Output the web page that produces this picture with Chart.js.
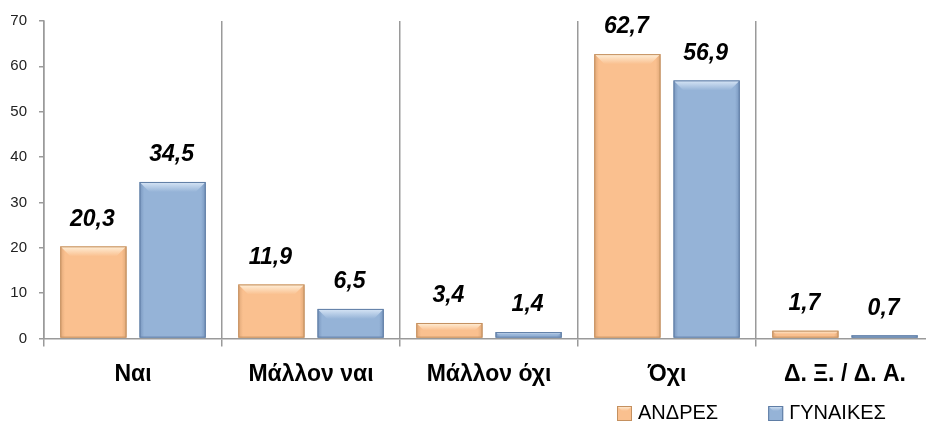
<!DOCTYPE html>
<html><head><meta charset="utf-8">
<script src="https://cdn.jsdelivr.net/npm/chart.js@4"></script>
<style>
html,body{margin:0;padding:0;overflow:hidden;background:#fff;width:926px;height:423px}
#wrap{width:936px;height:423px;position:relative}
</style></head>
<body><div id="wrap"><canvas id="c"></canvas></div>
<script>
const categories = ["Ναι", "Μάλλον ναι", "Μάλλον όχι", "Όχι", "Δ. Ξ. / Δ. Α."];
const seriesNames = ["ΑΝΔΡΕΣ", "ΓΥΝΑΙΚΕΣ"];
const men = [20.3, 11.9, 3.4, 62.7, 1.7];
const women = [34.5, 6.5, 1.4, 56.9, 0.7];
const yTicks = [0, 10, 20, 30, 40, 50, 60, 70];

const FONT = "'Liberation Sans', Arial, sans-serif";
const palette = [
  {fill:"#FAC08F", light:"#FFF0DA", dark:"#E0A878", edge:"#C4905F"},
  {fill:"#95B3D7", light:"#D8E6F6", dark:"#7896BE", edge:"#5F7DA5"}
];

function drawBevel(ctx, l, t, w, h, p, maxB){
  const r = l + w;
  const bv = Math.min(maxB, h/2);
  let g = ctx.createLinearGradient(l,0,r,0);
  g.addColorStop(0, p.dark);
  g.addColorStop(0.07, p.fill);
  g.addColorStop(0.93, p.fill);
  g.addColorStop(1, p.dark);
  ctx.fillStyle = g;
  ctx.fillRect(l, t, w, h);
  g = ctx.createLinearGradient(0,t,0,t+bv);
  g.addColorStop(0, p.light);
  g.addColorStop(1, p.fill);
  ctx.fillStyle = g;
  ctx.beginPath();
  ctx.moveTo(l,t); ctx.lineTo(r,t); ctx.lineTo(r-bv,t+bv); ctx.lineTo(l+bv,t+bv); ctx.closePath();
  ctx.fill();
  ctx.strokeStyle = p.edge; ctx.lineWidth = 1;
  ctx.strokeRect(l+0.5, t+0.5, w-1, h-1);
}

const bevelPlugin = {
  id:"bevel",
  beforeDatasetDraw(chart){
    const ctx = chart.ctx;
    ctx.save();
    ctx.shadowColor = "rgba(0,0,0,0.3)";
    ctx.shadowBlur = 6;
    ctx.shadowOffsetX = 2;
    ctx.shadowOffsetY = 1;
  },
  afterDatasetDraw(chart, args){
    const ctx = chart.ctx;
    ctx.restore();
    const p = palette[args.index];
    args.meta.data.forEach(el => {
      const w = el.width, h = el.base - el.y;
      if (h <= 0) return;
      ctx.save();
      drawBevel(ctx, el.x - w/2, el.y, w, h, p, 10);
      ctx.restore();
    });
  }
};

const labelPlugin = {
  id:"vals",
  afterDatasetsDraw(chart){
    const ctx = chart.ctx;
    ctx.save();
    ctx.font = "italic bold 23px " + FONT;
    ctx.fillStyle = "#000";
    ctx.textAlign = "center";
    ctx.textBaseline = "middle";
    chart.data.datasets.forEach((ds, i) => {
      chart.getDatasetMeta(i).data.forEach((el, j) => {
        ctx.fillText(String(ds.data[j]).replace(".", ","), el.x - 1, el.y - 27);
      });
    });
    ctx.restore();
  }
};

const legendPlugin = {
  id:"customLegend",
  afterDraw(chart){
    const ctx = chart.ctx;
    const ca = chart.chartArea;
    ctx.save();
    ctx.font = "20px " + FONT;
    ctx.textBaseline = "middle";
    ctx.textAlign = "left";
    const cy = chart.height - 10;
    let x = ca.right - 317;
    seriesNames.forEach((name, i) => {
      drawBevel(ctx, x, cy - 7, 15, 15, palette[i], 5);
      ctx.fillStyle = "#000";
      ctx.fillText(name, x + 21, cy);
      x += 21 + ctx.measureText(name).width + 50;
    });
    ctx.restore();
  }
};

new Chart(document.getElementById("c"), {
  type:"bar",
  data:{
    labels: categories,
    datasets:[
      {label: seriesNames[0], data: men, backgroundColor: palette[0].fill, borderColor: palette[0].edge, borderWidth:1},
      {label: seriesNames[1], data: women, backgroundColor: palette[1].fill, borderColor: palette[1].edge, borderWidth:1}
    ]
  },
  options:{
    responsive:true, maintainAspectRatio:false, animation:false,
    categoryPercentage:0.89, barPercentage:0.835,
    layout:{padding:{top:20, right:2, left:0, bottom:21}},
    plugins:{
      legend:{display:false},
      tooltip:{enabled:false}
    },
    scales:{
      x:{
        grid:{display:true, offset:true, color:"#9a9a9a", lineWidth:1.5, tickLength:8, drawOnChartArea:true},
        border:{display:true, color:"#9a9a9a", width:1.5},
        ticks:{font:{family:FONT, size:23, weight:"bold"}, color:"#000", padding:14}
      },
      y:{
        min:0, max:70,
        afterFit(s){ s.width = 44; },
        afterBuildTicks(s){ s.ticks = yTicks.map(v=>({value:v})); },
        grid:{drawOnChartArea:false, drawTicks:true, tickLength:5, color:"#9a9a9a", lineWidth:1.5},
        border:{display:true, color:"#9a9a9a", width:1.5},
        ticks:{font:{family:FONT, size:15}, color:"#222", padding:12}
      }
    }
  },
  plugins:[bevelPlugin, labelPlugin, legendPlugin]
});
</script></body></html>
